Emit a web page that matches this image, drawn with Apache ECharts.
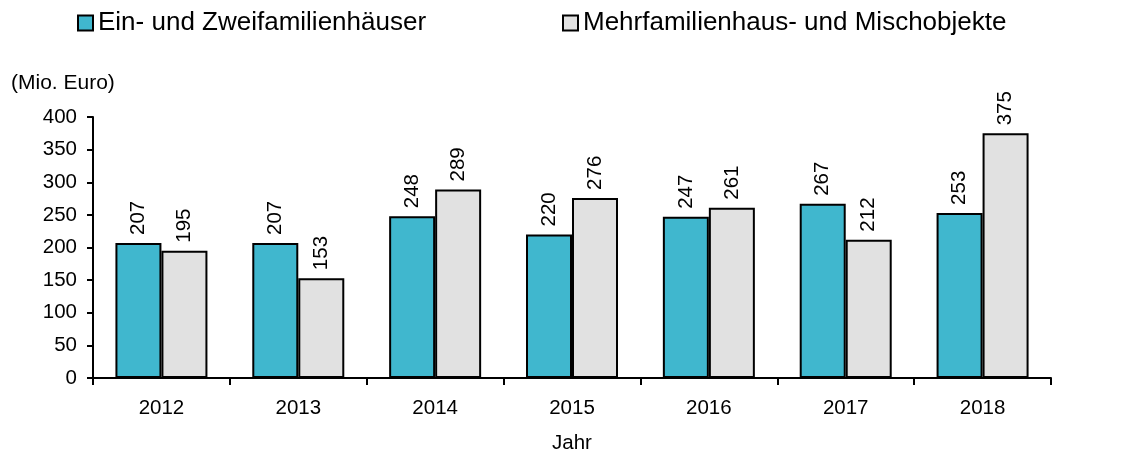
<!DOCTYPE html>
<html>
<head>
<meta charset="utf-8">
<script src="https://cdn.jsdelivr.net/npm/echarts@6/dist/echarts.min.js"></script>
<style>
html,body{margin:0;padding:0;background:#fff;}
#chart{width:1142px;height:459px;}
</style>
</head>
<body>
<div id="chart"></div>
<script>
const categories = ['2012','2013','2014','2015','2016','2017','2018'];
const seriesNames = ['Ein- und Zweifamilienhäuser','Mehrfamilienhaus- und Mischobjekte'];
const einZwei = [207,207,248,220,247,267,253];
const mehrMisch = [195,153,289,276,261,212,375];
const yTicks = {min:0, max:400, interval:50};
const yUnit = '(Mio. Euro)';
const xName = 'Jahr';

const font = 'Liberation Sans, Arial, sans-serif';
const chart = echarts.init(document.getElementById('chart'));
const labelCfg = {
  show:true, position:'top', rotate:90, align:'left', verticalAlign:'middle',
  distance:8, fontFamily:font, fontSize:20.5, color:'#000'
};
const legendText = {fontFamily:font, fontSize:26, color:'#000'};
chart.setOption({
  animation:false,
  title:{text:yUnit, left:6, top:68, textStyle:{fontFamily:font, fontSize:21, fontWeight:'normal', color:'#000'}},
  legend:[
    {data:[seriesNames[0]], left:72, top:5, itemWidth:15, itemHeight:15, icon:'rect', textStyle:legendText},
    {data:[seriesNames[1]], left:557, top:5, itemWidth:15, itemHeight:15, icon:'rect', textStyle:legendText}
  ],
  grid:{left:93, right:91, top:117, bottom:79, containLabel:false},
  xAxis:{
    type:'category', data:categories,
    name:xName, nameLocation:'middle', nameGap:55,
    nameTextStyle:{fontFamily:font, fontSize:20.5, color:'#000'},
    axisLine:{lineStyle:{color:'#000', width:2}},
    axisTick:{show:true, length:7, lineStyle:{color:'#000', width:2}},
    axisLabel:{fontFamily:font, fontSize:20.5, color:'#000', margin:20}
  },
  yAxis:{
    type:'value', min:yTicks.min, max:yTicks.max, interval:yTicks.interval,
    splitLine:{show:false},
    axisLine:{show:true, lineStyle:{color:'#000', width:2}},
    axisTick:{show:true, length:6, lineStyle:{color:'#000', width:2}},
    axisLabel:{fontFamily:font, fontSize:20.5, color:'#000', margin:16}
  },
  series:[
    {name:seriesNames[0], type:'bar', data:einZwei, barWidth:46, barGap:'0%',
     itemStyle:{color:'#40B7CE', borderColor:'#000', borderWidth:2}, label:labelCfg},
    {name:seriesNames[1], type:'bar', data:mehrMisch, barWidth:46, barGap:'0%',
     itemStyle:{color:'#E1E1E1', borderColor:'#000', borderWidth:2}, label:labelCfg}
  ]
});
</script>
</body>
</html>
